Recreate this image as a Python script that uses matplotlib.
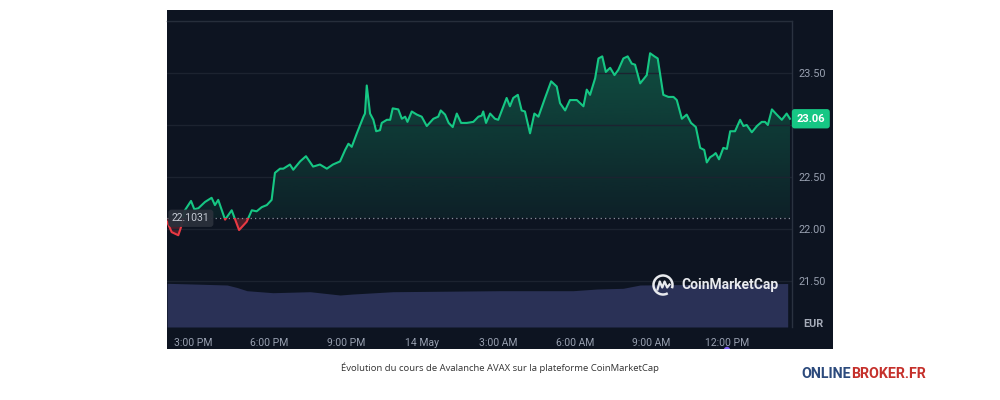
import numpy as np
import matplotlib
matplotlib.use("Agg")
import matplotlib.pyplot as plt
from matplotlib.patches import Rectangle, Circle, Arc
from matplotlib.path import Path
from matplotlib.patches import PathPatch
from matplotlib.transforms import blended_transform_factory

# ---------------- data ----------------
# time in hours since 13 May 00:00
price_hours = [13.97, 14.15, 14.41, 14.52, 14.67, 14.91, 15.04, 15.20, 15.46, 15.72,
               15.85, 15.98, 16.25, 16.51, 16.80, 17.10, 17.30, 17.49, 17.69, 17.89,
               18.08, 18.21, 18.41, 18.54, 18.80, 18.93, 19.20, 19.43, 19.71, 19.98,
               20.25, 20.49, 20.77, 20.97, 21.10, 21.23, 21.43, 21.69, 21.75, 21.82,
               21.95, 22.08, 22.19, 22.34, 22.41, 22.61, 22.74, 22.84, 23.06, 23.20,
               23.33, 23.42, 23.59, 23.79, 23.98, 24.18, 24.44, 24.63, 24.73, 24.90,
               25.04, 25.20, 25.36, 25.53, 25.75, 26.01, 26.21, 26.34, 26.40, 26.51,
               26.67, 26.86, 26.99, 27.13, 27.32, 27.45, 27.58, 27.76, 27.91, 28.04,
               28.24, 28.41, 28.57, 28.83, 29.07, 29.29, 29.42, 29.62, 29.81, 30.08,
               30.21, 30.34, 30.47, 30.60, 30.80, 30.93, 31.08, 31.22, 31.39, 31.56,
               31.71, 31.91, 32.08, 32.24, 32.37, 32.57, 32.83, 32.96, 33.13, 33.26,
               33.48, 33.68, 33.88, 34.01, 34.21, 34.40, 34.57, 34.76, 34.93, 35.09,
               35.19, 35.32, 35.45, 35.54, 35.67, 35.84, 35.98, 36.11, 36.30, 36.50,
               36.63, 36.76, 36.96, 37.16, 37.35, 37.48, 37.59, 37.75, 37.94, 38.14,
               38.33, 38.46]
price_eur = [22.07, 21.97, 21.94, 22.02, 22.18, 22.27, 22.19, 22.20, 22.26, 22.30,
             22.23, 22.28, 22.09, 22.18, 21.99, 22.07, 22.18, 22.17, 22.21, 22.23,
             22.28, 22.54, 22.58, 22.58, 22.62, 22.57, 22.65, 22.70, 22.60, 22.62,
             22.58, 22.62, 22.65, 22.76, 22.82, 22.79, 22.92, 23.08, 23.11, 23.38,
             23.11, 23.05, 22.94, 22.95, 23.02, 23.05, 23.05, 23.16, 23.15, 23.06,
             23.08, 23.03, 23.13, 23.10, 23.08, 22.99, 23.06, 23.08, 23.14, 23.10,
             23.02, 22.98, 23.11, 23.02, 23.02, 23.03, 23.08, 23.09, 23.13, 23.02,
             23.11, 23.06, 23.05, 23.14, 23.26, 23.18, 23.26, 23.29, 23.14, 23.13,
             22.92, 23.11, 23.08, 23.26, 23.42, 23.37, 23.21, 23.14, 23.24, 23.24,
             23.21, 23.18, 23.34, 23.29, 23.45, 23.64, 23.66, 23.51, 23.55, 23.48,
             23.53, 23.64, 23.66, 23.59, 23.58, 23.40, 23.48, 23.69, 23.66, 23.64,
             23.29, 23.27, 23.27, 23.24, 23.06, 23.10, 23.02, 22.98, 22.78, 22.76,
             22.64, 22.69, 22.71, 22.73, 22.67, 22.78, 22.77, 22.94, 22.94, 23.05,
             22.99, 23.00, 22.93, 22.99, 23.03, 23.03, 23.00, 23.15, 23.10, 23.05,
             23.11, 23.06]

volume_hours = [13.97, 14.99, 16.33, 16.72, 17.11, 18.13, 19.59, 20.77, 21.28, 22.85,
                27.06, 29.93, 30.88, 31.90, 32.57, 38.37]
volume_meur = [437, 430, 420, 395, 363, 343, 353, 320, 330, 353,
               363, 363, 380, 387, 420, 435]

open_price = 22.1031
last_price = 23.06
y_ticks = [21.5, 22.0, 22.5, 23.0, 23.5, 24.0]
y_ticklabels = ["21.50", "22.00", "22.50", "", "23.50", ""]
x_ticks = [15, 18, 21, 24, 27, 30, 33, 36]
x_ticklabels = ["3:00 PM", "6:00 PM", "9:00 PM", "14 May", "3:00 AM", "6:00 AM",
                "9:00 AM", "12:00 PM"]
caption = "Évolution du cours de Avalanche AVAX sur la plateforme CoinMarketCap"

# ---------------- style ----------------
BG = "#0d1421"
GREEN = "#16c784"
RED = "#ea3943"
GRID = "#1c2330"
TXT = "#98a0b0"
VOL = "#2a3156"
FONT = ["Roboto", "DejaVu Sans"]
plt.rcParams["font.family"] = FONT

fig = plt.figure(figsize=(10, 4), dpi=100)
fig.patch.set_facecolor("white")

# background layer in pixel coordinates
bg = fig.add_axes([0, 0, 1, 1], zorder=0)
bg.set_xlim(0, 1000)
bg.set_ylim(400, 0)
bg.axis("off")
panel = Rectangle((167, 10), 666, 339, facecolor=BG, edgecolor="none")
bg.add_patch(panel)
dot = Circle((727, 350), 3.2, facecolor="#7b5cf0", edgecolor="none")
bg.add_patch(dot)
dot.set_clip_path(panel)

rect = [0.167, 1 - 327 / 400, 0.625, 306 / 400]
xlim = (13.966, 38.54)
ylim = (24.0 - 306 / 104, 24.0)

# volume layer
axv = fig.add_axes(rect, zorder=1)
axv.set_xlim(*xlim)
axv.set_ylim(0, 3060)
axv.axis("off")
axv.fill_between(volume_hours, 0, volume_meur, color=VOL, lw=0)

# price layer
ax = fig.add_axes(rect, zorder=2)
ax.patch.set_visible(False)
ax.set_xlim(*xlim)
ax.set_ylim(*ylim)

x = np.array(price_hours)
p = np.array(price_eur)

# insert crossing points with the open price
xs, ps = [x[0]], [p[0]]
for i in range(1, len(x)):
    a, b = p[i - 1] - open_price, p[i] - open_price
    if a * b < 0:
        t = a / (a - b)
        xs.append(x[i - 1] + t * (x[i] - x[i - 1]))
        ps.append(open_price)
    xs.append(x[i])
    ps.append(p[i])
xs, ps = np.array(xs), np.array(ps)


def region_path(top):
    verts = np.concatenate([np.column_stack([xs, top]),
                            [[xs[-1], open_price], [xs[0], open_price], [xs[0], top[0]]]])
    return Path(verts, closed=True)


# green gradient fill
gtop = 23.75
n = 256
grad = np.zeros((n, 1, 4))
grad[..., 0], grad[..., 1], grad[..., 2] = np.array(matplotlib.colors.to_rgb(GREEN))[:, None, None]
grad[:, 0, 3] = np.linspace(0.07, 0.34, n)
im = ax.imshow(grad, extent=[xs[0], xs[-1], open_price, gtop], origin="lower",
               aspect="auto", zorder=1, interpolation="bilinear")
gpatch = PathPatch(region_path(np.maximum(ps, open_price)), transform=ax.transData,
                   facecolor="none", edgecolor="none")
ax.add_patch(gpatch)
im.set_clip_path(gpatch)

# red fill
rpatch = PathPatch(region_path(np.minimum(ps, open_price)), transform=ax.transData,
                   facecolor=RED, alpha=0.28, edgecolor="none", zorder=1)
ax.add_patch(rpatch)

# line, green above / red below open price
lg, = ax.plot(xs, ps, color=GREEN, lw=1.5, zorder=3, solid_joinstyle="round")
lr, = ax.plot(xs, ps, color=RED, lw=1.5, zorder=3, solid_joinstyle="round")
lg.set_clip_path(Rectangle((xlim[0], open_price), 100, 10, transform=ax.transData))
lr.set_clip_path(Rectangle((xlim[0], open_price - 10), 100, 10, transform=ax.transData))

# open price dotted line
ax.axhline(open_price, color="#8a909c", lw=0.9, ls=(0, (1, 2.5)), zorder=2)

# grid / spines
ax.set_yticks(y_ticks)
ax.set_yticklabels(y_ticklabels)
ax.yaxis.tick_right()
ax.grid(axis="y", color=GRID, lw=1, zorder=0)
ax.set_xticks(x_ticks)
ax.set_xticklabels(x_ticklabels)
ax.tick_params(axis="x", length=0, pad=8, labelsize=7.5, labelcolor=TXT)
ax.tick_params(axis="y", length=0, pad=5, labelsize=7.8, labelcolor=TXT)
for s in ["left", "bottom"]:
    ax.spines[s].set_visible(False)
ax.spines["top"].set_color("#262e3b")
ax.spines["right"].set_color("#2a3240")
ax.spines["top"].set_linewidth(1)
ax.spines["right"].set_linewidth(1)

trans = blended_transform_factory(ax.transAxes, ax.transData)
ax.text(1.0 + 4.5 / 625, last_price, f"{last_price:.2f}", transform=trans,
        ha="left", va="center", color="white", fontsize=8, fontweight="bold",
        bbox=dict(boxstyle="round,pad=0.42,rounding_size=0.25", facecolor=GREEN,
                  edgecolor="none"), zorder=10, clip_on=False)
ax.text(0.0 + 5 / 625, open_price, f"{open_price:.4f}", transform=trans,
        ha="left", va="center", color="#c5cad3", fontsize=7.5,
        bbox=dict(boxstyle="round,pad=0.35,rounding_size=0.3", facecolor="#2a303b",
                  edgecolor="none", alpha=0.95), zorder=10, clip_on=False)
ax.text(1.0 + 21 / 625, 3 / 306, "EUR", transform=ax.transAxes, ha="center",
        va="center", color="#a6acb9", fontsize=7.8, fontweight="bold")

# overlay: CoinMarketCap watermark
top = fig.add_axes([0, 0, 1, 1], zorder=5)
top.set_xlim(0, 1000)
top.set_ylim(400, 0)
top.axis("off")
top.patch.set_visible(False)
top.add_patch(Arc((663, 285), 19, 19, theta1=-300, theta2=20, color="#e8eaee", lw=1.8))
top.plot([657.5, 659.8, 662.3, 664.6, 667.2, 669.5],
         [289.5, 281.5, 287.5, 281.5, 287.5, 284.5], color="#e8eaee", lw=1.6,
         solid_joinstyle="round")
top.text(681.5, 285, "CoinMarketCap", ha="left", va="center", color="#e8eaee",
         fontsize=10.0, fontweight="bold", family=["Roboto", "DejaVu Sans"])

# caption and brand
cap = bg.text(500, 368, caption, ha="center", va="center", color="#333333",
              fontsize=6.8, family=["Open Sans", "DejaVu Sans"])
t1 = bg.text(801, 374, "ONLINE", ha="left", va="center", color="#2c4a7c",
             fontsize=10.2, fontweight="bold", family=["Roboto", "DejaVu Sans"])
fig.canvas.draw()
r = fig.canvas.get_renderer()
bb = t1.get_window_extent(r)
x_end = bb.x1 * 1000 / fig.bbox.width
bg.text(x_end, 374, "BROKER.FR", ha="left", va="center", color="#c5302b",
        fontsize=10.2, fontweight="bold", family=["Roboto", "DejaVu Sans"])

fig.savefig("out.png", dpi=100, facecolor="white")
